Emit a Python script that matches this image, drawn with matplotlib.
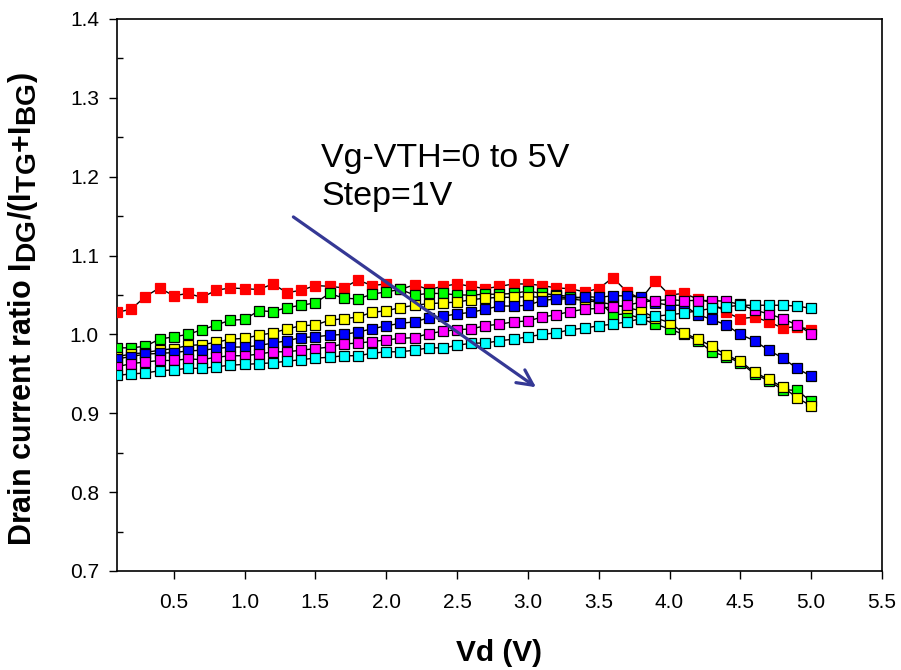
import matplotlib
matplotlib.use("Agg")
import matplotlib.pyplot as plt
import matplotlib._mathtext as mathtext_core
from matplotlib.ticker import MultipleLocator

plt.rcParams['font.family'] = ['Liberation Sans', 'DejaVu Sans']
plt.rcParams['mathtext.fontset'] = 'custom'
plt.rcParams['mathtext.rm'] = 'Liberation Sans'
plt.rcParams['mathtext.bf'] = 'Liberation Sans:bold'
# subscripts in the original axis title are nearly full size
mathtext_core.SHRINK_FACTOR = 0.92

vd = [0.1, 0.2, 0.3, 0.4, 0.5, 0.6, 0.7, 0.8, 0.9, 1.0,
      1.1, 1.2, 1.3, 1.4, 1.5, 1.6, 1.7, 1.8, 1.9, 2.0,
      2.1, 2.2, 2.3, 2.4, 2.5, 2.6, 2.7, 2.8, 2.9, 3.0,
      3.1, 3.2, 3.3, 3.4, 3.5, 3.6, 3.7, 3.8, 3.9, 4.0,
      4.1, 4.2, 4.3, 4.4, 4.5, 4.6, 4.7, 4.8, 4.9, 5.0]

# Vg-VTH = 0 V
ratio_0v = [1.028, 1.032, 1.048, 1.059, 1.049, 1.052, 1.047, 1.056, 1.059, 1.058,
            1.057, 1.064, 1.053, 1.056, 1.062, 1.061, 1.059, 1.069, 1.062, 1.064,
            1.057, 1.063, 1.057, 1.061, 1.064, 1.061, 1.058, 1.061, 1.064, 1.064,
            1.062, 1.059, 1.058, 1.054, 1.058, 1.072, 1.054, 1.045, 1.068, 1.050,
            1.052, 1.045, 1.040, 1.028, 1.020, 1.022, 1.016, 1.008, 1.010, 1.006]
# Vg-VTH = 1 V
ratio_1v = [0.983, 0.983, 0.985, 0.994, 0.997, 1.000, 1.006, 1.012, 1.018, 1.019,
            1.030, 1.029, 1.034, 1.037, 1.040, 1.052, 1.046, 1.045, 1.051, 1.054,
            1.057, 1.050, 1.052, 1.052, 1.050, 1.050, 1.051, 1.051, 1.052, 1.055,
            1.052, 1.050, 1.048, 1.046, 1.042, 1.025, 1.026, 1.020, 1.013, 1.007,
            1.000, 0.992, 0.978, 0.972, 0.964, 0.950, 0.941, 0.930, 0.929, 0.915]
# Vg-VTH = 2 V
ratio_2v = [0.972, 0.975, 0.977, 0.980, 0.982, 0.986, 0.987, 0.990, 0.994, 0.995,
            0.999, 1.002, 1.007, 1.011, 1.012, 1.018, 1.020, 1.022, 1.028, 1.030,
            1.034, 1.037, 1.039, 1.040, 1.041, 1.044, 1.046, 1.047, 1.047, 1.048,
            1.047, 1.049, 1.045, 1.043, 1.041, 1.038, 1.034, 1.030, 1.021, 1.015,
            1.002, 0.994, 0.985, 0.974, 0.966, 0.952, 0.943, 0.933, 0.920, 0.909]
# Vg-VTH = 3 V
ratio_3v = [0.969, 0.972, 0.975, 0.976, 0.977, 0.979, 0.980, 0.982, 0.984, 0.984,
            0.986, 0.989, 0.992, 0.996, 0.997, 0.999, 1.000, 1.003, 1.007, 1.011,
            1.014, 1.016, 1.021, 1.023, 1.026, 1.028, 1.032, 1.036, 1.036, 1.037,
            1.043, 1.045, 1.045, 1.048, 1.047, 1.049, 1.049, 1.047, 1.040, 1.037,
            1.037, 1.025, 1.019, 1.012, 1.000, 0.992, 0.980, 0.970, 0.957, 0.947]
# Vg-VTH = 4 V
ratio_4v = [0.959, 0.963, 0.965, 0.967, 0.967, 0.969, 0.968, 0.971, 0.973, 0.973,
            0.975, 0.978, 0.978, 0.980, 0.982, 0.984, 0.988, 0.989, 0.991, 0.993,
            0.995, 0.996, 1.001, 1.004, 1.006, 1.007, 1.011, 1.013, 1.016, 1.017,
            1.022, 1.025, 1.029, 1.032, 1.033, 1.035, 1.037, 1.041, 1.043, 1.044,
            1.043, 1.043, 1.043, 1.042, 1.038, 1.031, 1.026, 1.020, 1.012, 1.001]
# Vg-VTH = 5 V
ratio_5v = [0.948, 0.950, 0.951, 0.954, 0.955, 0.957, 0.957, 0.959, 0.961, 0.962,
            0.963, 0.964, 0.966, 0.968, 0.970, 0.971, 0.973, 0.973, 0.976, 0.978,
            0.978, 0.980, 0.983, 0.983, 0.986, 0.989, 0.989, 0.992, 0.994, 0.997,
            1.000, 1.002, 1.006, 1.008, 1.011, 1.013, 1.016, 1.020, 1.023, 1.025,
            1.027, 1.030, 1.033, 1.035, 1.037, 1.037, 1.037, 1.037, 1.036, 1.033]

series = [ratio_0v, ratio_1v, ratio_2v, ratio_3v, ratio_4v, ratio_5v]
colors = ['#ff0000', '#00ff00', '#ffff00', '#0000ff', '#ff00ff', '#00ffff']

fig = plt.figure(figsize=(9.01, 6.70), dpi=100)
ax = fig.add_axes([117 / 901, 99 / 670, 765 / 901, 552 / 670])

for i, (vals, col) in enumerate(zip(series, colors)):
    edge = col if i == 0 else 'black'
    ax.plot(vd, vals, color='black', linewidth=1.0, marker='s', markersize=7.0,
            markerfacecolor=col, markeredgecolor=edge, markeredgewidth=0.9,
            zorder=3 + i)

ax.set_xlim(0.1, 5.5)
ax.set_ylim(0.7, 1.4)
ax.xaxis.set_major_locator(MultipleLocator(0.5))
ax.yaxis.set_major_locator(MultipleLocator(0.1))
ax.yaxis.set_minor_locator(MultipleLocator(0.05))
ax.xaxis.set_major_formatter(plt.FuncFormatter(lambda v, _: '{:.1f}'.format(v)))
ax.yaxis.set_major_formatter(plt.FuncFormatter(lambda v, _: '{:.1f}'.format(v)))
ax.set_xticks([0.5, 1.0, 1.5, 2.0, 2.5, 3.0, 3.5, 4.0, 4.5, 5.0, 5.5])
ax.tick_params(axis='both', which='major', direction='out', length=6, width=1,
               labelsize=15, colors='black')
ax.tick_params(axis='x', which='major', pad=10)
ax.tick_params(axis='y', which='major', pad=7)
ax.tick_params(axis='y', which='minor', direction='in', length=4, width=1)
for sp in ax.spines.values():
    sp.set_linewidth(1.2)

ax.set_xlabel('Vd (V)', fontsize=21.5, fontweight='bold')
ax.xaxis.set_label_coords(0.5, -0.123)
ax.set_ylabel(r'Drain current ratio I$_{\mathbf{DG}}$/(I$_{\mathbf{TG}}$+I$_{\mathbf{BG}}$)',
              fontsize=22, fontweight='bold')
ax.yaxis.set_label_coords(-0.10, 0.475)

ax.text(1.54, 1.2124, 'Vg-VTH=0 to 5V', fontsize=24.5, va='baseline', ha='left')
ax.text(1.54, 1.1643, 'Step=1V', fontsize=24.5, va='baseline', ha='left')
ax.annotate('', xy=(3.058, 0.933), xytext=(1.345, 1.149),
            arrowprops=dict(arrowstyle='->', color='#353895', lw=2.3,
                            mutation_scale=28, shrinkA=0, shrinkB=0),
            zorder=10)

fig.savefig('out.png', dpi=100)
